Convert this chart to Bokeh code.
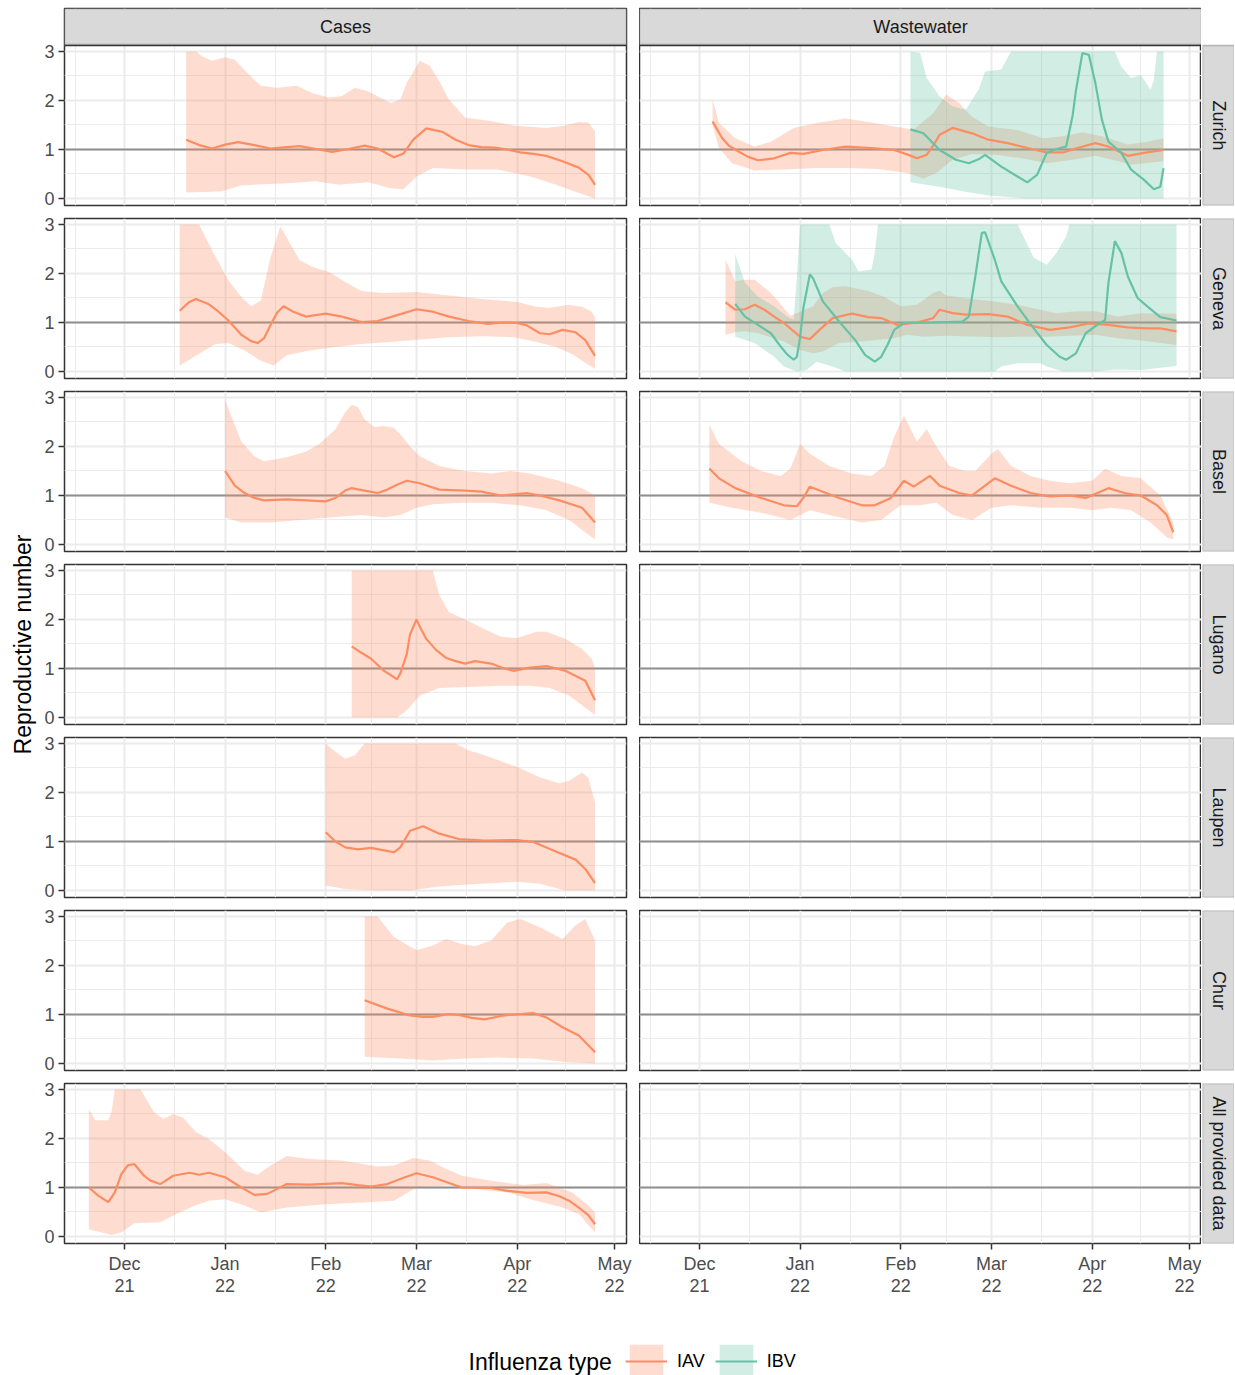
import math
import numpy as np
import pandas as pd
from bokeh.plotting import figure
from bokeh.layouts import row, column
from bokeh.models import (Range1d, FixedTicker, LinearAxis, DatetimeAxis, DatetimeTickFormatter,
                          Span, Label, Legend, LegendItem, Grid, BoxAnnotation)
from bokeh.embed import file_html
from bokeh.resources import INLINE

# ---------------------------------------------------------------- data
# dates are given as day offsets from DAY0 (1 Dec 2021)
DAY0 = "2021-12-01"
ROWS = ["Zurich", "Geneva", "Basel", "Lugano", "Laupen", "Chur", "All provided data"]
COLS = ["Cases", "Wastewater"]
TYPES = ["IAV", "IBV"]
COLORS = {"IAV": "#FC8D62", "IBV": "#66C2A5"}
MONTH_BREAKS = ["2021-11-01", "2021-12-01", "2022-01-01", "2022-02-01",
                "2022-03-01", "2022-04-01", "2022-05-01", "2022-06-01"]
X_LIMIT_DAYS = [-18.5, 154.7]
Y_TICKS = [0, 1, 2, 3]
Y_LIMITS = [-0.143, 3.122]

# Cases - Zurich (IAV)
CZ_MED = [(19,1.20),(23,1.09),(27,1.02),(31,1.10),(35,1.15),(40,1.09),(45,1.02),(50,1.05),(54,1.07),
          (59,1.01),(64,0.95),(69,1.01),(74,1.08),(78,1.02),(83,0.84),(86,0.92),(89,1.20),(93,1.43),
          (98,1.36),(102,1.20),(106,1.09),(110,1.05),(114,1.04),(118,1.00),(122,0.94),(126,0.91),
          (130,0.87),(135,0.76),(140,0.63),(143,0.48),(145,0.28)]
CZ_HI = [(19,3.0),(22,3.0),(24,2.90),(27,2.81),(31,2.88),(34,2.83),(38,2.55),(42,2.30),(47,2.26),
         (53,2.30),(58,2.15),(63,2.06),(67,2.09),(71,2.26),(75,2.19),(79,2.05),(82,1.95),(85,2.02),
         (87,2.36),(91,2.81),(94,2.71),(97,2.40),(100,2.02),(105,1.65),(113,1.58),(120,1.49),
         (130,1.44),(135,1.48),(140,1.56),(143,1.55),(145,1.37)]
CZ_LO = [(19,0.12),(25,0.13),(30,0.15),(36,0.27),(43,0.29),(50,0.31),(59,0.35),(66,0.28),(75,0.33),
         (82,0.21),(86,0.19),(90,0.45),(95,0.62),(105,0.59),(115,0.59),(125,0.45),(133,0.28),
         (140,0.11),(145,0.0)]

# Cases - Geneva (IAV)
CG_MED = [(17,1.24),(20,1.42),(22,1.48),(26,1.37),(29,1.22),(32,1.04),(36,0.75),(39,0.62),(41,0.58),
          (43,0.68),(45,0.95),(47,1.20),(49,1.33),(52,1.22),(56,1.12),(62,1.18),(67,1.12),(73,1.01),
          (78,1.03),(84,1.15),(90,1.27),(95,1.22),(100,1.12),(106,1.03),(112,0.97),(117,1.00),
          (121,0.99),(124,0.94),(128,0.78),(131,0.76),(135,0.85),(139,0.80),(142,0.64),(145,0.32)]
CG_HI = [(17,3.0),(23,3.0),(27,2.47),(32,1.86),(36,1.52),(39,1.33),(42,1.45),(45,2.33),(48,2.96),
         (51,2.61),(54,2.27),(58,2.13),(63,2.03),(69,1.79),(73,1.64),(80,1.60),(90,1.62),(100,1.55),
         (110,1.48),(121,1.42),(127,1.32),(131,1.30),(137,1.36),(141,1.32),(144,1.22),(145,1.10)]
CG_LO = [(17,0.12),(23,0.36),(28,0.56),(32,0.58),(37,0.43),(42,0.22),(46,0.12),(50,0.33),(57,0.43),
         (65,0.50),(73,0.56),(82,0.60),(90,0.65),(100,0.70),(110,0.72),(120,0.70),(127,0.60),
         (133,0.50),(138,0.35),(142,0.18),(145,0.05)]

# Cases - Basel (IAV)
CB_MED = [(31,1.50),(34,1.20),(37,1.05),(40,0.95),(43,0.90),(50,0.92),(56,0.90),(62,0.88),(65,0.95),
          (68,1.10),(70,1.15),(74,1.10),(78,1.05),(81,1.12),(84,1.22),(87,1.30),(91,1.25),(97,1.12),
          (105,1.10),(110,1.08),(116,1.00),(124,1.05),(128,1.00),(134,0.90),(141,0.75),(145,0.45)]
CB_HI = [(31,2.95),(33,2.60),(36,2.10),(40,1.80),(43,1.70),(50,1.78),(56,1.90),(60,2.05),(65,2.35),
         (68,2.70),(70,2.85),(72,2.80),(74,2.55),(77,2.40),(80,2.42),(83,2.38),(85,2.25),(88,2.00),
         (91,1.80),(97,1.60),(105,1.50),(113,1.45),(119,1.50),(125,1.45),(134,1.30),(141,1.15),
         (145,1.00)]
CB_LO = [(31,0.55),(36,0.45),(45,0.45),(54,0.50),(63,0.55),(73,0.60),(80,0.55),(85,0.60),(90,0.75),
         (95,0.82),(104,0.85),(113,0.85),(122,0.80),(130,0.70),(137,0.50),(143,0.20),(145,0.10)]

# Cases - Lugano (IAV)
CL_MED = [(70,1.45),(73,1.32),(76,1.20),(80,0.95),(84,0.78),(85,0.90),(87,1.30),(88,1.70),(90,2.00),
          (91,1.85),(93,1.60),(96,1.38),(99,1.22),(102,1.15),(105,1.10),(108,1.15),(113,1.10),
          (117,1.00),(120,0.95),(125,1.02),(130,1.05),(136,0.95),(142,0.75),(145,0.35)]
CL_HI = [(70,3.0),(95,3.0),(97,2.50),(100,2.15),(105,2.00),(111,1.80),(116,1.65),(121,1.62),
         (127,1.75),(130,1.75),(136,1.60),(141,1.40),(144,1.20),(145,1.00)]
CL_LO = [(70,0.0),(84,0.0),(87,0.15),(91,0.45),(97,0.60),(106,0.62),(116,0.65),(125,0.65),(131,0.60),
         (137,0.45),(142,0.20),(145,0.05)]

# Cases - Laupen (IAV)
CLA_MED = [(62,1.19),(65,1.00),(68,0.88),(72,0.84),(76,0.87),(80,0.82),(83,0.78),(85,0.88),(88,1.22),
           (92,1.31),(97,1.16),(103,1.05),(111,1.02),(121,1.03),(126,0.99),(132,0.82),(139,0.63),
           (142,0.44),(145,0.15)]
CLA_HI = [(62,3.0),(64,2.88),(68,2.69),(71,2.76),(74,3.0),(102,3.0),(106,2.86),(111,2.76),(121,2.52),
          (128,2.31),(134,2.19),(137,2.24),(141,2.41),(143,2.30),(144,2.04),(145,1.80)]
CLA_LO = [(62,0.10),(68,0.03),(78,0.0),(88,0.0),(97,0.08),(106,0.12),(116,0.16),(121,0.18),
          (128,0.14),(134,0.03),(136,0.0),(145,0.0)]

# Cases - Chur (IAV)
CC_MED = [(74,1.29),(81,1.12),(88,0.98),(92,0.95),(95,0.95),(100,1.01),(103,0.99),(107,0.93),
          (111,0.90),(116,0.97),(120,1.00),(126,1.03),(130,0.94),(135,0.74),(140,0.57),(145,0.23)]
CC_HI = [(74,3.0),(78,3.0),(83,2.58),(90,2.31),(95,2.41),(99,2.54),(104,2.44),(108,2.39),(113,2.51),
         (118,2.88),(122,2.95),(128,2.78),(135,2.54),(139,2.82),(142,2.95),(145,2.51)]
CC_LO = [(74,0.14),(85,0.10),(95,0.06),(105,0.10),(115,0.12),(126,0.10),(136,0.03),(145,0.0)]

# Cases - All provided data (IAV)
CA_MED = [(-11,1.00),(-8,0.83),(-5,0.70),(-3,0.90),(-1,1.27),(1,1.45),(3,1.48),(6,1.24),(8,1.14),
          (11,1.07),(15,1.24),(20,1.30),(23,1.26),(26,1.30),(31,1.21),(35,1.04),(40,0.85),(44,0.87),
          (50,1.07),(57,1.06),(67,1.09),(72,1.05),(76,1.02),(81,1.07),(86,1.20),(90,1.29),(95,1.21),
          (100,1.09),(104,1.00),(113,0.99),(118,0.93),(124,0.89),(130,0.90),(134,0.82),(137,0.73),
          (140,0.59),(143,0.43),(145,0.25)]
CA_HI = [(-11,2.60),(-9,2.37),(-5,2.37),(-4,2.55),(-3,3.0),(5,3.0),(9,2.54),(12,2.40),(15,2.50),
         (18,2.43),(22,2.13),(26,1.99),(31,1.72),(37,1.34),(41,1.26),(45,1.45),(50,1.64),(57,1.58),
         (67,1.55),(78,1.43),(83,1.45),(89,1.60),(94,1.55),(99,1.38),(104,1.24),(113,1.14),
         (123,1.05),(130,1.09),(138,0.90),(143,0.63),(145,0.49)]
CA_LO = [(-11,0.15),(-4,0.03),(-1,0.08),(3,0.27),(11,0.29),(16,0.46),(21,0.61),(26,0.73),(31,0.76),
         (37,0.63),(42,0.49),(50,0.59),(62,0.66),(75,0.70),(83,0.73),(87,0.88),(90,1.00),(100,1.04),
         (108,0.97),(118,0.90),(125,0.76),(135,0.59),(140,0.46),(145,0.08)]

# Wastewater - Zurich (IAV, IBV)
WZA_MED = [(4,1.57),(7,1.23),(9,1.08),(12,0.96),(15,0.85),(18,0.78),(23,0.82),(28,0.93),(32,0.91),
           (38,0.99),(45,1.06),(53,1.03),(60,0.99),(64,0.90),(67,0.82),(70,0.89),(72,1.08),(74,1.30),
           (78,1.44),(84,1.33),(89,1.20),(95,1.13),(101,1.03),(107,0.94),(112,0.94),(117,1.04),
           (122,1.13),(126,1.06),(132,0.87),(137,0.93),(143,0.99)]
WZA_HI = [(4,2.03),(6,1.54),(11,1.23),(17,1.06),(22,1.16),(29,1.44),(36,1.54),(45,1.63),(53,1.55),
          (60,1.47),(66,1.41),(72,1.74),(76,2.12),(80,1.95),(84,1.67),(89,1.47),(98,1.40),(106,1.23),
          (112,1.27),(118,1.35),(124,1.27),(132,1.10),(138,1.16),(143,1.23)]
WZA_LO = [(4,1.50),(6,1.03),(10,0.72),(17,0.57),(26,0.59),(36,0.62),(45,0.62),(55,0.60),(64,0.52),
          (69,0.41),(73,0.52),(78,0.79),(84,0.91),(92,0.89),(101,0.80),(107,0.72),(116,0.80),
          (122,0.87),(129,0.76),(133,0.69),(143,0.76)]
WZB_MED = [(65,1.41),(69,1.33),(74,0.99),(79,0.79),(83,0.72),(86,0.80),(88,0.89),(93,0.65),(98,0.45),
           (101,0.33),(104,0.48),(107,0.93),(110,1.01),(113,1.06),(115,1.70),(116,2.20),(118,2.97),
           (120,2.93),(122,2.35),(124,1.61),(126,1.16),(130,0.93),(133,0.59),(137,0.38),(140,0.19),
           (142,0.24),(143,0.62)]
WZB_HI = [(65,3.0),(68,2.97),(70,2.46),(74,2.08),(78,1.88),(82,1.81),(86,2.22),(88,2.59),(93,2.63),
          (96,3.0),(128,3.0),(130,2.69),(133,2.46),(136,2.52),(139,2.22),(140,2.42),(141,3.0),
          (143,3.0)]
WZB_LO = [(65,0.33),(74,0.24),(82,0.14),(89,0.06),(97,0.02),(101,0.0),(143,0.0)]

# Wastewater - Geneva (IAV, IBV)
WGA_MED = [(8,1.41),(11,1.26),(14,1.27),(17,1.36),(20,1.26),(23,1.12),(26,0.99),(31,0.71),(34,0.66),
           (37,0.85),(41,1.09),(47,1.18),(52,1.11),(56,1.09),(61,0.95),(67,1.00),(72,1.09),(74,1.26),
           (78,1.19),(82,1.16),(89,1.17),(95,1.12),(101,0.95),(108,0.85),(114,0.90),(120,0.98),
           (126,0.95),(132,0.90),(138,0.88),(142,0.88),(147,0.82)]
WGA_HI = [(8,2.28),(11,1.84),(14,1.87),(17,1.87),(22,1.60),(28,1.14),(31,1.22),(35,1.33),(38,1.60),
          (41,1.72),(45,1.74),(52,1.64),(57,1.52),(62,1.33),(67,1.36),(72,1.60),(74,1.65),(76,1.55),
          (84,1.48),(91,1.43),(98,1.36),(105,1.26),(110,1.19),(116,1.23),(122,1.23),(129,1.12),
          (136,1.19),(147,1.18)]
WGA_LO = [(8,0.75),(11,0.80),(14,0.82),(18,0.78),(26,0.61),(31,0.44),(35,0.37),(38,0.41),(43,0.58),
          (50,0.61),(60,0.68),(64,0.75),(69,0.71),(76,0.73),(86,0.71),(93,0.70),(100,0.71),(107,0.71),
          (114,0.73),(122,0.75),(129,0.68),(136,0.63),(147,0.54)]
WGB_MED = [(11,1.38),(14,1.12),(18,0.95),(22,0.78),(25,0.51),(27,0.35),(29,0.24),(30,0.30),(31,0.70),
           (32,1.30),(34,1.98),(35,1.90),(38,1.43),(43,1.02),(48,0.64),(51,0.34),(54,0.20),(56,0.30),
           (58,0.55),(60,0.85),(63,0.99),(72,1.00),(81,1.02),(83,1.12),(85,1.94),(87,2.83),(88,2.84),
           (91,2.28),(93,1.84),(98,1.33),(103,0.88),(107,0.54),(111,0.30),(113,0.24),(116,0.37),
           (119,0.78),(123,0.97),(125,1.05),(126,1.80),(128,2.66),(130,2.42),(132,1.94),(135,1.50),
           (138,1.33),(142,1.11),(147,1.04)]
WGB_HI = [(11,2.39),(14,1.81),(18,1.53),(23,1.33),(27,1.12),(29,1.05),(30,1.94),(31,3.0),(40,3.0),
          (42,2.62),(47,2.28),(49,2.04),(53,2.08),(54,2.42),(55,3.0),(98,3.0),(100,2.73),(103,2.32),
          (107,2.18),(110,2.42),(113,2.76),(114,3.0),(147,3.0)]
WGB_LO = [(11,0.71),(17,0.58),(23,0.30),(26,0.10),(30,0.0),(33,0.03),(36,0.20),(41,0.10),(45,0.0),
          (91,0.0),(93,0.10),(98,0.17),(105,0.17),(107,0.10),(112,0.0),(122,0.0),(128,0.04),
          (136,0.03),(147,0.11)]

# Wastewater - Basel (IAV)
WBA_MED = [(3,1.55),(6,1.35),(11,1.15),(19,0.95),(26,0.80),(30,0.78),(32,0.95),(34,1.18),(37,1.10),
           (43,0.95),(50,0.80),(54,0.80),(59,0.95),(63,1.30),(66,1.18),(71,1.40),(74,1.20),(80,1.05),
           (84,1.00),(88,1.20),(91,1.35),(96,1.20),(102,1.05),(108,0.98),(114,1.00),(119,0.95),
           (126,1.15),(131,1.05),(136,1.00),(141,0.80),(144,0.60),(146,0.25)]
WBA_HI = [(3,2.45),(6,2.05),(13,1.70),(19,1.50),(25,1.40),(28,1.55),(31,2.05),(34,1.85),(40,1.60),
          (47,1.45),(53,1.40),(57,1.60),(60,2.20),(63,2.63),(67,2.10),(70,2.35),(73,2.00),(77,1.60),
          (82,1.50),(85,1.50),(90,1.85),(92,1.95),(96,1.60),(102,1.40),(108,1.30),(114,1.25),
          (121,1.30),(125,1.55),(130,1.40),(136,1.35),(142,1.00),(146,0.45)]
WBA_LO = [(3,0.85),(10,0.75),(19,0.65),(28,0.50),(34,0.70),(40,0.60),(50,0.45),(56,0.50),(62,0.80),
          (68,0.80),(73,0.85),(78,0.60),(84,0.50),(90,0.75),(96,0.80),(105,0.75),(114,0.75),
          (121,0.70),(127,0.75),(133,0.70),(139,0.45),(144,0.15),(146,0.10)]

SERIES = [
    ("Cases", "Zurich", "IAV", CZ_MED, CZ_HI, CZ_LO),
    ("Cases", "Geneva", "IAV", CG_MED, CG_HI, CG_LO),
    ("Cases", "Basel", "IAV", CB_MED, CB_HI, CB_LO),
    ("Cases", "Lugano", "IAV", CL_MED, CL_HI, CL_LO),
    ("Cases", "Laupen", "IAV", CLA_MED, CLA_HI, CLA_LO),
    ("Cases", "Chur", "IAV", CC_MED, CC_HI, CC_LO),
    ("Cases", "All provided data", "IAV", CA_MED, CA_HI, CA_LO),
    ("Wastewater", "Zurich", "IAV", WZA_MED, WZA_HI, WZA_LO),
    ("Wastewater", "Zurich", "IBV", WZB_MED, WZB_HI, WZB_LO),
    ("Wastewater", "Geneva", "IAV", WGA_MED, WGA_HI, WGA_LO),
    ("Wastewater", "Geneva", "IBV", WGB_MED, WGB_HI, WGB_LO),
    ("Wastewater", "Basel", "IAV", WBA_MED, WBA_HI, WBA_LO),
]

# ---------------------------------------------------------------- helpers
FONT = "Liberation Sans"
ORIGIN = pd.Timestamp(DAY0)


def to_dates(pairs):
    return ORIGIN + pd.to_timedelta([d for d, _ in pairs], unit="D")


def to_vals(pairs):
    return np.array([v for _, v in pairs], dtype=float)


def ms(ts):
    return pd.Timestamp(ts).timestamp() * 1000.0


MAJOR_MS = [ms(t) for t in MONTH_BREAKS]
MINOR_MS = [(a + b) / 2 for a, b in zip(MAJOR_MS[:-1], MAJOR_MS[1:])]
Y_MINOR = [(a + b) / 2 for a, b in zip(Y_TICKS[:-1], Y_TICKS[1:])]
XR = (ms(ORIGIN + pd.Timedelta(days=X_LIMIT_DAYS[0])), ms(ORIGIN + pd.Timedelta(days=X_LIMIT_DAYS[1])))
XMID = (XR[0] + XR[1]) / 2

# layout sizes (pixels)
TOP_MARGIN = 8
YT_W = 38
FRAME_W, FRAME_H = 562, 160
GAP = 13
GAP_TOP, GAP_BOT = 6, 7
LEFT_PAD = 26
BOTTOM_AXIS = 52
STRIP_W = 33
TOP_STRIP_H = 36
PPU = FRAME_H / (Y_LIMITS[1] - Y_LIMITS[0])          # pixels per y unit
STRIP_BOT = Y_LIMITS[1] + 1 / PPU                      # strip bottom (1 px gap)
STRIP_TOP = Y_LIMITS[1] + (TOP_STRIP_H + 1) / PPU      # top of strip area


def style_axis(ax):
    ax.axis_line_color = None
    ax.major_tick_line_color = "#333333"
    ax.major_tick_line_width = 1.5
    ax.major_tick_in = 0
    ax.major_tick_out = 6
    ax.minor_tick_line_color = None
    ax.major_label_text_font = FONT
    ax.major_label_text_font_size = "18px"
    ax.major_label_text_color = "#4D4D4D"
    ax.major_label_text_line_height = 1.1
    ax.major_label_standoff = 4


def make_panel(col_name, row_name, is_top, is_bottom):
    left = col_name == COLS[0]
    fh = FRAME_H + (TOP_STRIP_H + 1 if is_top else 0)
    ytop = STRIP_TOP if is_top else Y_LIMITS[1]
    p = figure(frame_width=FRAME_W, frame_height=fh, title=None,
               x_axis_type="datetime", x_axis_location=None, y_axis_location=None,
               x_range=Range1d(*XR), y_range=Range1d(Y_LIMITS[0], ytop),
               toolbar_location=None, output_backend="svg",
               min_border_left=LEFT_PAD if left else 0, min_border_right=GAP if left else 0,
               min_border_top=TOP_MARGIN if is_top else GAP_TOP,
               min_border_bottom=BOTTOM_AXIS if is_bottom else GAP_BOT,
               background_fill_color="white", border_fill_color="white",
               outline_line_color="#333333", outline_line_width=1.5)
    p.center = [c for c in p.center if not isinstance(c, Grid)]
    p.add_layout(Grid(dimension=0, ticker=FixedTicker(ticks=MAJOR_MS, minor_ticks=MINOR_MS),
                      grid_line_color="#EBEBEB", grid_line_width=2,
                      minor_grid_line_color="#EBEBEB", minor_grid_line_width=1))
    p.add_layout(Grid(dimension=1, ticker=FixedTicker(ticks=Y_TICKS, minor_ticks=Y_MINOR),
                      grid_line_color="#EBEBEB", grid_line_width=2,
                      minor_grid_line_color="#EBEBEB", minor_grid_line_width=1))
    p.add_layout(Span(location=1, dimension="width", line_color="#8F8F8F", line_width=2,
                      level="underlay"))
    if left:
        ya = LinearAxis(ticker=FixedTicker(ticks=Y_TICKS))
        style_axis(ya)
        p.add_layout(ya, "left")
    if is_bottom:
        fmt = "%b\n%y"
        xa = DatetimeAxis(ticker=FixedTicker(ticks=MAJOR_MS[1:-1]),
                          formatter=DatetimeTickFormatter(
                              microseconds=fmt, milliseconds=fmt, seconds=fmt, minsec=fmt,
                              minutes=fmt, hourmin=fmt, hours=fmt, days=fmt, months=fmt, years=fmt))
        style_axis(xa)
        p.add_layout(xa, "below")

    sel = [s for s in SERIES if s[0] == col_name and s[1] == row_name]
    for _, _, typ, med, hi, lo in sel:
        xs = to_dates(hi).append(to_dates(lo)[::-1])
        ys = np.concatenate([to_vals(hi), to_vals(lo)[::-1]])
        p.patch(x=xs, y=ys, fill_color=COLORS[typ], fill_alpha=0.3, line_color=None)
    for _, _, typ, med, hi, lo in sel:
        p.line(x=to_dates(med), y=to_vals(med), line_color=COLORS[typ], line_width=2.2)

    if is_top:
        # facet strip on top of the first row (column label)
        p.add_layout(BoxAnnotation(bottom=Y_LIMITS[1], top=STRIP_BOT, fill_color="white",
                                   fill_alpha=1.0, line_color=None))
        p.add_layout(BoxAnnotation(bottom=STRIP_BOT, top=STRIP_TOP, fill_color="#D9D9D9",
                                   fill_alpha=1.0, line_color="#333333", line_width=1.5))
        p.add_layout(Span(location=Y_LIMITS[1], dimension="width", line_color="#333333",
                          line_width=1.5))
        p.add_layout(Label(x=XMID, y=(STRIP_BOT + STRIP_TOP) / 2, text=col_name,
                           text_align="center", text_baseline="middle", text_font=FONT,
                           text_font_size="18px", text_color="#1A1A1A"))
    return p


def side_strip(text, is_top, is_bottom):
    # same frame extent as the panels of its row, so frames stay aligned
    fh = FRAME_H + (TOP_STRIP_H + 1 if is_top else 0)
    s = figure(frame_width=STRIP_W - 1, frame_height=fh, title=None,
               x_range=Range1d(0, 1), y_range=Range1d(0, fh),
               x_axis_location=None, y_axis_location=None,
               toolbar_location=None, output_backend="svg",
               min_border_left=1, min_border_right=0,
               min_border_top=TOP_MARGIN if is_top else GAP_TOP,
               min_border_bottom=BOTTOM_AXIS if is_bottom else GAP_BOT,
               background_fill_color="white", border_fill_color="white",
               outline_line_color=None)
    s.center = [c for c in s.center if not isinstance(c, Grid)]
    s.add_layout(BoxAnnotation(bottom=0, top=FRAME_H, fill_color="#D9D9D9", fill_alpha=1.0,
                               line_color="#333333", line_width=1.5))
    s.add_layout(Label(x=0.5, y=FRAME_H / 2, text=text, text_align="center",
                       text_baseline="middle", angle=-math.pi / 2, text_font=FONT,
                       text_font_size="18px", text_color="#1A1A1A"))
    return s


# ---------------------------------------------------------------- layout
panel_rows = []
for i, rname in enumerate(ROWS):
    top = i == 0
    bottom = i == len(ROWS) - 1
    panel_rows.append(row(make_panel(COLS[0], rname, top, bottom),
                          make_panel(COLS[1], rname, top, bottom),
                          side_strip(rname, top, bottom)))
main = column(*panel_rows)

main_h = (TOP_MARGIN + TOP_STRIP_H + 1 + FRAME_H + GAP_BOT) + (FRAME_H + GAP) * (len(ROWS) - 2) \
         + (GAP_TOP + FRAME_H + BOTTOM_AXIS)
yt = figure(frame_width=YT_W, frame_height=main_h, title=None,
            x_range=Range1d(0, 1), y_range=Range1d(0, 1),
            x_axis_location=None, y_axis_location=None, toolbar_location=None, output_backend="svg",
            min_border_left=0, min_border_right=0, min_border_top=0, min_border_bottom=0,
            outline_line_color=None, background_fill_color="white", border_fill_color="white")
yt.center = [c for c in yt.center if not isinstance(c, Grid)]
panels_mid = (TOP_MARGIN + TOP_STRIP_H + 1 + (FRAME_H + GAP) * (len(ROWS) - 1) + FRAME_H
              + TOP_MARGIN + TOP_STRIP_H + 1) / 2
yt.add_layout(Label(x=22, y=main_h - panels_mid, x_units="screen", y_units="screen",
                    text="Reproductive number", angle=math.pi / 2,
                    text_align="center", text_baseline="middle",
                    text_font=FONT, text_font_size="23px", text_color="black"))

TOTAL_W = YT_W + (LEFT_PAD + FRAME_W + GAP) + FRAME_W + STRIP_W
LEG_H = 78
lf = figure(frame_width=TOTAL_W, frame_height=LEG_H, title=None,
            x_range=Range1d(0, 1), y_range=Range1d(0, 1),
            x_axis_location=None, y_axis_location=None, toolbar_location=None, output_backend="svg",
            min_border_left=0, min_border_right=0, min_border_top=0, min_border_bottom=0,
            outline_line_color=None, background_fill_color="white", border_fill_color="white")
lf.center = [c for c in lf.center if not isinstance(c, Grid)]
items = []
for typ in TYPES:
    # off-frame stand-in renderers, used only to draw the legend keys
    ra = lf.varea(x=[-3, -2], y1=[-3, -3], y2=[-2, -2], fill_color=COLORS[typ], fill_alpha=0.3)
    rl = lf.line(x=[-3, -2], y=[-3, -3], line_color=COLORS[typ], line_width=2.2)
    items.append(LegendItem(label=typ, renderers=[ra, rl]))
leg = Legend(items=items, location=(625, -6), orientation="horizontal",
             glyph_width=42, glyph_height=42, label_standoff=10, spacing=10,
             padding=0, margin=0, border_line_color=None, background_fill_alpha=0,
             label_text_font=FONT, label_text_font_size="18px", label_text_color="black",
             label_height=42)
lf.add_layout(leg)
lf.add_layout(Label(x=468, y=15, x_units="screen", y_units="screen", text="Influenza type",
                    text_baseline="middle", text_font=FONT, text_font_size="23px",
                    text_color="black"))

layout = column(row(yt, main), lf)
open("out.html", "w").write(file_html(layout, INLINE))
